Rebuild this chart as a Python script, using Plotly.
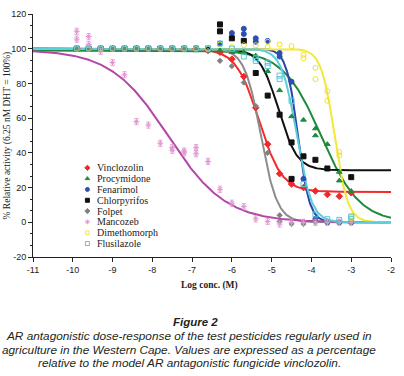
import numpy as np
import plotly.graph_objects as go

# ---------------- data ----------------
names = ["Vinclozolin", "Procymidone", "Fenarimol", "Chlorpyrifos",
         "Folpet", "Mancozeb", "Dimethomorph", "Flusilazole"]

base_x = [-9.9, -9.6, -9.3, -9.0, -8.7, -8.4, -8.1, -7.8, -7.5, -7.2, -6.9, -6.6]

vin_x = base_x + [-6.3, -6.0, -5.7, -5.4, -5.1, -4.8, -4.5, -4.2, -3.9, -3.6, -3.3, -3.0]
vin_y = [100, 100, 100, 100, 100, 100, 100, 100, 100, 100, 100, 99,
         98, 94, 84, 66, 45, 28, 22, 20, 18, 16, 15, 17]

pro_x = base_x + [-6.3, -6.0, -5.7, -5.4, -5.1, -4.8, -4.5, -4.2, -3.9, -3.9, -3.6, -3.3, -3.3, -3.0]
pro_y = [100, 100, 100, 100, 100, 100, 100, 100, 100, 100, 99, 99,
         99, 98, 98, 96, 87, 76, 61, 59, 54, 50, 45, 29, 24, 18]

fen_x = base_x + [-6.3, -6.0, -5.7, -5.7, -5.4, -5.4, -5.1, -4.8, -4.8, -4.5, -4.2, -3.9, -3.6, -3.3, -3.0]
fen_y = [100, 100, 100, 100, 100, 100, 100, 100, 100, 100, 100, 100,
         103, 109, 111.5, 108.5, 106, 104, 104.5, 97.5, 95.5, 81, 25, 2, 0, 0, 0]

chl_x = base_x + [-6.3, -6.3, -6.0, -5.7, -5.4, -5.1, -4.8, -4.5, -4.5, -4.2, -3.9, -3.6, -3.0]
chl_y = [100, 100, 100, 100, 100, 100, 100, 100, 100, 100, 100, 100,
         114, 110, 106, 104.5, 86, 73, 62, 46, 25, 38, 36, 31, 26]

fol_x = base_x + [-6.3, -6.0, -5.7, -5.4, -5.1, -4.8, -4.8, -4.5, -4.2, -3.9, -3.6, -3.3, -3.0]
fol_y = [100, 100, 100, 100, 100, 100, 100, 100, 100, 100, 100, 99,
         93, 90, 80.5, 67, 40, 4, 0.5, -1, -1, 0, 0, 0, 0]

man_x = [-9.9, -9.9, -9.6, -9.6, -9.3, -9.0, -8.7, -8.4, -8.1, -7.8, -7.5, -7.5,
         -7.2, -7.2, -6.9, -6.9, -6.6, -6.3, -6.0, -5.7, -5.4, -5.1, -4.8, -4.5,
         -4.2, -3.9, -3.6, -3.3, -3.0]
man_y = [110, 105.5, 107, 102.5, 98.5, 92, 85, 58, 56, 45.5, 43, 41.5,
         41, 40, 43, 39.5, 35, 19, 11, 9, 2, 0.5, -1, 0,
         0, 0, 0, 0, 0]
man_err = [1.8] * len(man_y)

dim_x = base_x + [-6.3, -6.0, -5.7, -5.4, -5.1, -5.1, -4.8, -4.5, -4.2, -4.2, -3.9, -3.9,
                  -3.6, -3.6, -3.3, -3.3, -3.0, -3.0]
dim_y = [100, 100, 100, 100, 100, 100, 100, 100, 100, 100, 100, 100,
         102.5, 101, 102, 102, 104, 101, 102.5, 101.5, 96.5, 94.5, 89, 82.5,
         75.5, 70, 40.5, 38.5, 2.5, 3.5]

flu_x = base_x + [-6.3, -6.0, -5.7, -5.4, -5.4, -5.1, -5.1, -4.8, -4.8, -4.5, -4.2, -3.9,
                  -3.6, -3.3, -3.0, -3.0]
flu_y = [100, 100, 100, 100, 100, 100, 100, 100, 100, 100, 100, 100,
         103, 100, 95.5, 94.5, 93, 92, 90, 84.5, 82.5, 70, 22, 4.5,
         1.8, 1.4, 3.3, 1.8]

series_x = [vin_x, pro_x, fen_x, chl_x, fol_x, man_x, dim_x, flu_x]
series_y = [vin_y, pro_y, fen_y, chl_y, fol_y, man_y, dim_y, flu_y]

# fitted four-parameter dose-response curves
fit_top = [100, 99, 100, 100, 100, 99.5, 100, 100]
fit_bottom = [17.5, 0, 0, 30, 0, 0, 0, 0]
fit_logec50 = [-5.32, -3.75, -4.34, -4.83, -5.27, -7.6, -3.42, -4.37]
fit_hill = [1.5, 0.9, 3.0, 1.85, 2.1, 0.6, 2.6, 2.3]

x_ticks = [-11, -10, -9, -8, -7, -6, -5, -4, -3, -2]
y_ticks = [-20, 0, 20, 40, 60, 80, 100, 120]

# ---------------- styles ----------------
line_colors = ["#F42A2A", "#1F8A3C", "#2C47A6", "#111111",
               "#8C8C8C", "#B347A8", "#F2E83A", "#5CCDDC"]
mk_colors = ["#F0282A", "#1F8A3C", "#2C4FB0", "#111111",
             "#808080", "#E296D2", "#F2E12A", "#56C8D8"]
mk_symbols = ["diamond", "triangle-up", "circle", "square",
              "diamond", "asterisk-open", "circle-open", "square-open"]
mk_sizes = [5, 5, 5, 5, 4, 5, 5, 5]

fig = go.Figure()

xc = np.linspace(-11, -2, 400)
for i in range(len(names)):
    yc = fit_bottom[i] + (fit_top[i] - fit_bottom[i]) / (
        1 + 10 ** ((xc - fit_logec50[i]) * fit_hill[i]))
    fig.add_trace(go.Scatter(x=xc, y=yc, mode="lines",
                             line=dict(color=line_colors[i], width=2),
                             showlegend=False, hoverinfo="skip"))

for i in range(len(names)):
    kw = {}
    if names[i] == "Mancozeb":
        kw["error_y"] = dict(type="data", array=man_err, color=mk_colors[i],
                             thickness=0.8, width=2)
    fig.add_trace(go.Scatter(
        x=series_x[i], y=series_y[i], mode="markers", name=names[i],
        marker=dict(symbol=mk_symbols[i], size=mk_sizes[i], color=mk_colors[i],
                    line=dict(color=mk_colors[i], width=1)),
        showlegend=False, **kw))

# compact legend drawn on an overlay axis
leg_x0 = 0.152
leg_y0 = 0.367
leg_step = 0.0445
leg_ys = [leg_y0 - i * leg_step for i in range(len(names))]
for i in range(len(names)):
    fig.add_trace(go.Scatter(
        x=[leg_x0], y=[leg_ys[i]], xaxis="x2", yaxis="y2", mode="markers",
        marker=dict(symbol=mk_symbols[i], size=4, color=mk_colors[i],
                    line=dict(color=mk_colors[i], width=1)),
        showlegend=False, hoverinfo="skip"))
    fig.add_annotation(x=leg_x0 + 0.02, y=leg_ys[i], xref="paper", yref="paper",
                       text=names[i], showarrow=False, xanchor="left",
                       yanchor="middle",
                       font=dict(family="Liberation Serif", size=10, color="#222"))

axis_font = dict(family="Liberation Sans", size=9, color="#222")
fig.update_layout(
    width=404, height=376,
    margin=dict(l=33, r=9, t=12, b=119),
    paper_bgcolor="white", plot_bgcolor="white",
    showlegend=False,
    xaxis=dict(range=[-11, -2], tickvals=x_ticks, ticktext=[str(v) for v in x_ticks],
               showgrid=False, zeroline=False, showline=True, linecolor="#222",
               linewidth=1, ticks="outside", ticklen=4, tickcolor="#222",
               tickfont=axis_font),
    yaxis=dict(range=[-20, 120], tickvals=y_ticks, ticktext=[str(v) for v in y_ticks],
               showgrid=False, zeroline=False, showline=True, linecolor="#222",
               linewidth=1, ticks="outside", ticklen=4, tickcolor="#222",
               tickfont=axis_font,
               minor=dict(dtick=20 / 3, tick0=0, ticks="outside", ticklen=2,
                          tickcolor="#222")),
    xaxis2=dict(range=[0, 1], overlaying="x", visible=False, fixedrange=True),
    yaxis2=dict(range=[0, 1], overlaying="y", visible=False, fixedrange=True),
)

fig.add_annotation(x=-0.07, y=0.50, xref="paper", yref="paper",
                   text="% Relative activity (6.25 nM DHT = 100%)", textangle=-90,
                   showarrow=False, xanchor="center", yanchor="middle",
                   font=dict(family="Liberation Serif", size=9.5, color="#222"))
fig.add_annotation(x=0.494, y=-0.117, xref="paper", yref="paper",
                   text="<b>Log conc. (M)</b>", showarrow=False,
                   xanchor="center", yanchor="middle",
                   font=dict(family="Liberation Serif", size=9.5, color="#222"))

cap_font = dict(family="Liberation Sans", size=11.8, color="#231F20")
fig.add_annotation(x=0.455, y=-0.268, xref="paper", yref="paper",
                   text="<b><i>Figure 2</i></b>", showarrow=False,
                   xanchor="center", yanchor="middle",
                   font=dict(family="Liberation Sans", size=11.5, color="#231F20"))
caption = ["AR antagonistic dose-response of the test pesticides regularly used in",
           "agriculture in the Western Cape. Values are expressed as a percentage",
           "relative to the model AR antagonistic fungicide vinclozolin."]
cap_y = [-0.325, -0.382, -0.436]
for t, yy in zip(caption, cap_y):
    fig.add_annotation(x=0.437, y=yy, xref="paper", yref="paper",
                       text="<i>" + t + "</i>", showarrow=False,
                       xanchor="center", yanchor="middle", font=cap_font)

fig.write_html("out.html", config={"displayModeBar": False},
               post_script="document.body.style.margin='0px';")
